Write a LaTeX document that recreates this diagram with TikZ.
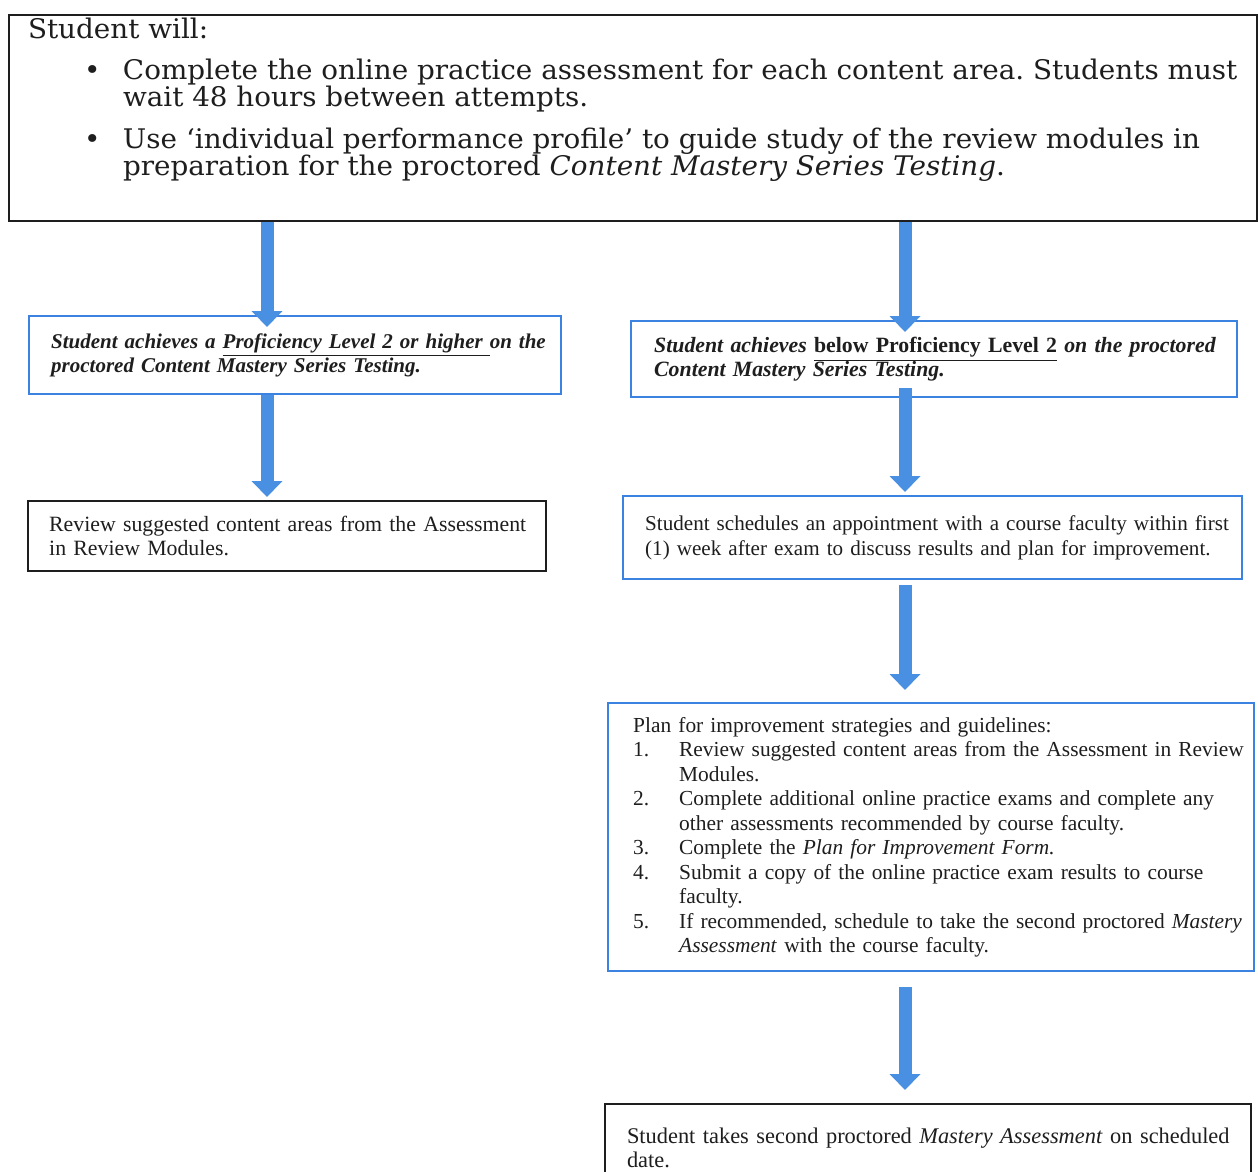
\documentclass[tikz,border=0pt]{standalone}
\usepackage{fontspec}
\setmainfont{Liberation Serif}
\newfontfamily\topfont[FakeStretch=1.03]{DejaVu Serif}
\usetikzlibrary{arrows.meta,calc}
\definecolor{boxblue}{RGB}{60,130,225}
\definecolor{arrblue}{RGB}{74,144,226}
\definecolor{ink}{RGB}{30,30,30}
\newcommand{\rowx}[1]{\mbox{#1}}
\begin{document}
\begin{tikzpicture}[x=0.5pt,y=-0.5pt,
  box/.style={draw, anchor=north west, inner ysep=0pt, align=left, text=ink,
    font=\fontsize{10.5}{12}\selectfont},
  bluebox/.style={box, draw=boxblue, line width=1.2pt},
  blackbox/.style={box, draw=ink, line width=1.2pt},
  bigarrow/.style={draw=arrblue, line width=6.5pt, -{Triangle[width=15pt,length=8pt]}}]
\clip (0,0) rectangle (1258,1172);
\fill[white] (0,0) rectangle (1258,1172);

% top box
\node[draw=ink, line width=1pt, anchor=north west, inner xsep=9.5pt, inner ysep=1.5pt, text=ink,
  font=\topfont\fontsize{13.5}{13.5}\selectfont] (top) at (8,14)
{\parbox[c][100pt][t]{605pt}{\raggedright\frenchspacing\lineskiplimit=-20pt\lineskip=0pt
\rowx{Student will:}\\[7pt]
\rowx{\hspace*{28pt}\makebox[19.5pt][l]{\textbullet}Complete the online practice assessment for each content area. Students must}\\
\rowx{\hspace*{47.5pt}wait 48 hours between attempts.}\\[7.5pt]
\rowx{\hspace*{28pt}\makebox[19.5pt][l]{\textbullet}Use ‘individual performance profile’ to guide study of the review modules in}\\
\rowx{\hspace*{47.5pt}preparation for the proctored \textit{Content Mastery Series Testing}.}}};

% left branch
\node[bluebox, minimum width=266pt, minimum height=39pt, inner xsep=11pt, text width=244pt] (L1) at (28,315)
{\bfseries\itshape \rowx{Student achieves a \underline{Proficiency Level 2 or higher\ }on the}\\
\rowx{proctored Content Mastery Series Testing.}};
\node[blackbox, minimum width=259pt, minimum height=35pt, inner xsep=10.5pt, text width=238pt,
  font=\fontsize{10.9}{12}\selectfont] (L2) at (27,500)
{\rowx{Review suggested content areas from the Assessment}\\
\rowx{in Review Modules.}};

% right branch
\node[bluebox, minimum width=303pt, minimum height=38pt, inner xsep=11.5pt, text width=280pt,
  font=\fontsize{10.9}{12}\selectfont] (R1) at (630,320)
{\bfseries\rowx{\textit{Student achieves} \underline{below Proficiency Level 2} \textit{on the proctored}}\\
\rowx{\textit{Content Mastery Series Testing.}}};
\node[bluebox, minimum width=309.5pt, minimum height=41.5pt, inner xsep=11pt, text width=287.5pt,
  font=\fontsize{10.55}{12.5}\selectfont] (R2) at (622,495)
{\rowx{Student schedules an appointment with a course faculty within first}\\
\rowx{(1) week after exam to discuss results and plan for improvement.}};
\node[bluebox, minimum width=323pt, minimum height=134pt, inner xsep=12.5pt, text width=298pt,
  font=\fontsize{10.7}{12.25}\selectfont] (R3) at (607,702)
{\rowx{Plan for improvement strategies and guidelines:}\\
\rowx{\makebox[23pt][l]{1.}Review suggested content areas from the Assessment in Review}\\
\rowx{\hspace*{23pt}Modules.}\\
\rowx{\makebox[23pt][l]{2.}Complete additional online practice exams and complete any}\\
\rowx{\hspace*{23pt}other assessments recommended by course faculty.}\\
\rowx{\makebox[23pt][l]{3.}Complete the \textit{Plan for Improvement Form.}}\\
\rowx{\makebox[23pt][l]{4.}Submit a copy of the online practice exam results to course}\\
\rowx{\hspace*{23pt}faculty.}\\
\rowx{\makebox[23pt][l]{5.}If recommended, schedule to take the second proctored \textit{Mastery}}\\
\rowx{\hspace*{23pt}\textit{Assessment} with the course faculty.}};
\node[blackbox, line width=1pt, minimum width=323pt, minimum height=43.5pt, inner xsep=11pt, text width=301pt,
  font=\fontsize{11.2}{12}\selectfont] (R4) at (604,1103)
{\rowx{Student takes second proctored \textit{Mastery Assessment} on scheduled}\\
\rowx{date.}};

% arrows
\coordinate (cl) at (267,0);
\coordinate (cr) at (905,0);
\draw[bigarrow] (top.south -| cl) -- ($(L1.north -| cl)+(0,12)$);
\draw[bigarrow] (L1.south -| cl) -- ($(L2.north -| cl)+(0,-3)$);
\draw[bigarrow] (top.south -| cr) -- ($(R1.north -| cr)+(0,12)$);
\draw[bigarrow] ($(R1.south -| cr)+(0,-10)$) -- ($(R2.north -| cr)+(0,-3)$);
\draw[bigarrow] ($(R2.south -| cr)+(0,5)$) -- ($(R3.north -| cr)+(0,-12)$);
\draw[bigarrow] ($(R3.south -| cr)+(0,15)$) -- ($(R4.north -| cr)+(0,-13)$);
\end{tikzpicture}
\end{document}
